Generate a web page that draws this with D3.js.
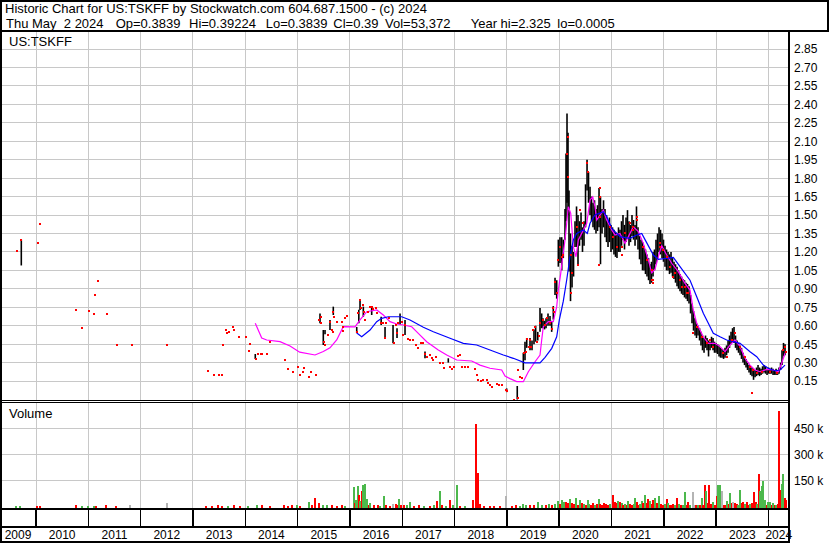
<!DOCTYPE html>
<html><head><meta charset="utf-8">
<script src="https://cdn.jsdelivr.net/npm/d3@7"></script>
<style>
body{margin:0;background:#fff}
svg{display:block}
text{font-family:"Liberation Sans",Arial,sans-serif;fill:#000}
</style>
</head><body>
<svg id="c" width="830" height="543"></svg>
<script>
// ---------------- DATA ----------------
const title = "Historic Chart for US:TSKFF by Stockwatch.com 604.687.1500 - (c) 2024";
const quoteFields = ["Thu May  2 2024","Op=0.3839","Hi=0.39224","Lo=0.3839","Cl=0.39","Vol=53,372","Year hi=2.325","lo=0.0005"];
const symbol = "US:TSKFF";
const volumeLabel = "Volume";
const yearLabels = [2009,2010,2011,2012,2013,2014,2015,2016,2017,2018,2019,2020,2021,2022,2023,2024];
const priceTicks = [0.15,0.30,0.45,0.60,0.75,0.90,1.05,1.20,1.35,1.50,1.65,1.80,1.95,2.10,2.25,2.40,2.55,2.70,2.85];
const volumeTicks = [150,300,450]; // thousands

// single-price trading days (decimal year, price) shown as red squares
const closes = [
[2009.631,1.21],[2009.722,1.30],[2010.032,1.275],[2010.076,1.43],[2010.765,0.73],[2010.879,0.58],[2011.007,0.72],
[2011.109,0.695],[2011.128,0.85],[2011.179,0.965],[2011.357,0.695],[2011.548,0.443],[2011.835,0.443],
[2012.504,0.443],[2013.287,0.232],[2013.402,0.199],[2013.498,0.199],[2013.555,0.199],[2013.574,0.443],
[2013.631,0.566],[2013.651,0.54],[2013.689,0.55],[2013.765,0.59],[2013.784,0.566],[2013.880,0.508],
[2014.014,0.508],[2014.071,0.395],[2014.090,0.45],[2014.205,0.332],[2014.243,0.37],[2014.300,0.37],
[2014.320,0.37],[2014.415,0.37],[2014.472,0.468],[2014.759,0.32],[2014.817,0.245],[2014.912,0.224],
[2015.008,0.264],[2015.046,0.197],[2015.109,0.226],[2015.122,0.26],[2015.218,0.185],[2015.256,0.226],
[2015.352,0.20],[2015.415,0.647],[2015.441,0.673],[2015.441,0.62],[2015.510,0.47],[2015.524,0.443],
[2015.575,0.524],[2015.619,0.633],[2015.652,0.565],[2015.671,0.551],[2015.682,0.714],[2015.701,0.673],
[2015.747,0.633],[2015.843,0.633],[2015.862,0.56],[2015.873,0.592],[2015.906,0.66],[2015.939,0.679],
[2016.130,0.551],[2016.160,0.70],[2016.193,0.809],[2016.206,0.742],[2016.244,0.769],[2016.269,0.714],
[2016.288,0.647],[2016.351,0.714],[2016.384,0.75],[2016.416,0.755],[2016.447,0.733],[2016.498,0.747],
[2016.523,0.70],[2016.588,0.62],[2016.638,0.62],[2016.690,0.625],[2016.671,0.498],[2016.753,0.66],
[2016.843,0.457],[2016.881,0.606],[2016.894,0.538],[2016.925,0.62],[2016.990,0.633],[2017.020,0.524],
[2017.053,0.606],[2017.116,0.49],[2017.148,0.484],[2017.211,0.484],[2017.263,0.443],[2017.295,0.416],
[2017.359,0.462],[2017.403,0.462],[2017.435,0.37],[2017.467,0.348],[2017.531,0.362],[2017.563,0.335],
[2017.594,0.321],[2017.645,0.343],[2017.722,0.30],[2017.785,0.30],[2017.798,0.254],[2017.913,0.267],
[2017.945,0.245],[2017.989,0.262],[2018.072,0.354],[2018.104,0.362],[2018.136,0.262],[2018.199,0.267],
[2018.263,0.262],[2018.391,0.245],[2018.423,0.20],[2018.454,0.159],[2018.500,0.153],[2018.549,0.159],
[2018.614,0.159],[2018.645,0.132],[2018.677,0.118],[2018.710,0.104],[2018.805,0.126],[2018.855,0.118],
[2018.901,0.118],[2018.983,0.077],[2019.008,0.069],[2019.136,0.0],[2019.207,0.01],[2019.212,0.24],
[2019.251,0.185],[2019.283,0.172],[2019.333,0.376],[2019.365,0.389],[2019.379,0.49],[2019.429,0.43],
[2019.455,0.424],[2019.442,0.484],[2019.505,0.565],[2019.538,0.587],[2019.570,0.47],[2019.620,0.516],
[2019.633,0.62],[2019.696,0.647],[2019.729,0.606],[2019.761,0.66],[2019.824,0.625],[2019.856,0.57],
[2019.887,0.742],[2019.906,0.714],[2019.920,0.958],[2019.952,0.864],[2019.983,1.134],[2020.015,1.243],
[2020.048,1.161],[2020.078,1.175],[2020.143,2.00],[2020.174,2.137],[2020.174,1.81],[2020.220,1.175],
[2020.239,1.03],[2020.226,0.864],[2020.335,1.405],[2020.365,1.094],[2020.398,1.541],[2020.461,1.433],
[2020.537,1.92],[2020.556,1.85],[2020.780,1.72],[2020.780,1.65],[2020.780,1.487],[2020.767,1.094],
[2020.971,1.405],[2021.034,1.324],[2021.099,1.243],[2021.195,1.175],[2021.195,1.243],[2021.258,1.352],
[2021.353,1.433],[2021.416,1.378],[2021.416,1.405],[2021.481,1.487],[2021.481,1.46],[2021.607,1.243],
[2021.672,1.135],[2021.768,0.97],[2021.768,1.053],[2021.799,0.945],[2021.799,0.972],[2021.927,1.243],
[2021.927,1.27],[2021.990,1.216],[2022.054,1.161],[2022.118,1.08],[2022.181,0.999],[2022.213,1.026],
[2022.309,0.972],[2022.342,0.917],[2022.404,0.917],[2022.437,0.864],[2022.467,0.864],[2022.563,0.538],
[2022.628,0.592],[2022.724,0.51],[2022.819,0.457],[2022.882,0.484],[2022.945,0.43],[2023.137,0.376],
[2023.201,0.348],[2023.297,0.484],[2023.359,0.538],[2023.456,0.43],[2023.551,0.348],[2023.647,0.267],
[2023.710,0.24],[2023.685,0.05],[2023.775,0.213],[2023.870,0.226],[2024.029,0.226],[2024.157,0.213],
[2024.283,0.403],[2024.316,0.43],[2024.334,0.39]
];

// daily range bars (decimal year, high, low)
const bars = [
[2009.719,1.30,1.09],[2014.191,0.37,0.33],
[2015.428,0.70,0.62],[2015.491,0.565,0.443],[2015.524,0.565,0.53],[2015.619,0.647,0.565],
[2015.682,0.755,0.687],[2016.130,0.59,0.54],[2016.170,0.73,0.62],[2016.193,0.81,0.728],
[2016.256,0.755,0.673],[2016.416,0.755,0.687],[2016.597,0.673,0.606],[2016.671,0.59,0.50],
[2016.824,0.606,0.457],[2016.900,0.58,0.50],[2016.958,0.70,0.606],[2017.053,0.647,0.524],
[2017.435,0.39,0.335],[2017.880,0.335,0.30],[2018.996,0.09,0.06],[2019.198,0.11,0.0],
[2019.314,0.38,0.24],[2019.346,0.47,0.32],[2019.379,0.50,0.42],[2019.442,0.50,0.40],
[2019.480,0.48,0.40],[2019.518,0.57,0.45],[2019.550,0.60,0.47],[2019.590,0.55,0.48],
[2019.633,0.744,0.55],[2019.665,0.70,0.58],[2019.690,0.66,0.58],[2019.720,0.64,0.57],
[2019.748,0.66,0.58],[2019.786,0.70,0.60],[2019.824,0.68,0.60],[2019.856,0.64,0.55],
[2019.887,0.76,0.65],[2019.920,0.99,0.85],[2019.952,0.97,0.82],[2019.983,1.30,1.08],
[2020.015,1.32,1.11],[2020.048,1.32,1.05],[2020.078,1.30,1.15],[2020.111,1.55,1.30],
[2020.130,2.00,1.45],[2020.149,2.325,1.60],[2020.168,2.17,1.50],[2020.187,1.70,1.04],
[2020.216,1.35,0.80],[2020.245,1.25,0.91],[2020.274,1.20,1.00],[2020.302,1.45,1.24],
[2020.331,1.57,1.24],[2020.359,1.50,1.10],[2020.388,1.45,1.25],[2020.417,1.52,1.30],
[2020.445,1.40,1.20],[2020.474,1.45,1.25],[2020.503,1.75,1.40],[2020.532,1.95,1.70],
[2020.560,1.85,1.60],[2020.589,1.73,1.50],[2020.617,1.65,1.45],[2020.646,1.60,1.40],
[2020.675,1.62,1.38],[2020.703,1.55,1.35],[2020.732,1.58,1.37],[2020.761,1.72,1.40],
[2020.789,1.65,1.10],[2020.818,1.55,1.35],[2020.847,1.62,1.40],[2020.875,1.55,1.32],
[2020.904,1.50,1.28],[2020.933,1.45,1.24],[2020.961,1.48,1.28],[2020.990,1.42,1.20],
[2021.019,1.40,1.22],[2021.047,1.38,1.18],[2021.076,1.36,1.16],[2021.104,1.35,1.15],
[2021.133,1.40,1.20],[2021.162,1.38,1.20],[2021.191,1.45,1.25],[2021.219,1.50,1.30],
[2021.248,1.42,1.22],[2021.277,1.48,1.28],[2021.305,1.54,1.32],[2021.334,1.45,1.25],
[2021.363,1.42,1.28],[2021.391,1.50,1.33],[2021.420,1.46,1.30],[2021.449,1.42,1.25],
[2021.477,1.57,1.30],[2021.506,1.40,1.22],[2021.535,1.33,1.14],[2021.563,1.30,1.10],
[2021.592,1.28,1.05],[2021.621,1.25,1.05],[2021.649,1.22,1.02],[2021.678,1.18,1.00],
[2021.707,1.15,0.97],[2021.735,1.10,0.94],[2021.764,1.12,0.95],[2021.793,1.20,1.00],
[2021.821,1.22,1.05],[2021.850,1.30,1.10],[2021.879,1.35,1.15],[2021.908,1.40,1.20],
[2021.936,1.38,1.18],[2021.965,1.35,1.15],[2021.993,1.30,1.12],[2022.022,1.25,1.08],
[2022.051,1.22,1.05],[2022.080,1.20,1.05],[2022.108,1.18,1.02],[2022.137,1.20,1.03],
[2022.165,1.15,1.00],[2022.194,1.12,0.98],[2022.223,1.10,0.95],[2022.252,1.08,0.92],
[2022.280,1.05,0.90],[2022.309,1.02,0.88],[2022.338,1.00,0.86],[2022.366,0.98,0.85],
[2022.395,0.97,0.83],[2022.424,0.95,0.82],[2022.452,0.94,0.80],[2022.481,0.92,0.78],
[2022.510,0.85,0.70],[2022.538,0.78,0.62],[2022.567,0.72,0.56],[2022.596,0.66,0.52],
[2022.624,0.62,0.50],[2022.653,0.60,0.52],[2022.682,0.58,0.48],[2022.710,0.55,0.44],
[2022.739,0.52,0.40],[2022.768,0.50,0.38],[2022.796,0.52,0.42],[2022.825,0.50,0.40],
[2022.854,0.48,0.35],[2022.882,0.47,0.40],[2022.911,0.51,0.42],[2022.940,0.50,0.40],
[2022.968,0.47,0.38],[2022.997,0.46,0.38],[2023.026,0.45,0.37],[2023.055,0.44,0.35],
[2023.083,0.42,0.34],[2023.112,0.41,0.34],[2023.141,0.40,0.33],[2023.169,0.42,0.34],
[2023.198,0.44,0.36],[2023.227,0.48,0.38],[2023.255,0.52,0.42],[2023.284,0.55,0.45],
[2023.313,0.58,0.46],[2023.341,0.59,0.46],[2023.370,0.52,0.42],[2023.398,0.48,0.40],
[2023.427,0.46,0.38],[2023.456,0.44,0.36],[2023.484,0.42,0.33],[2023.513,0.38,0.30],
[2023.542,0.35,0.28],[2023.571,0.33,0.26],[2023.599,0.30,0.24],[2023.628,0.28,0.22],
[2023.657,0.27,0.20],[2023.685,0.26,0.19],[2023.714,0.25,0.16],[2023.743,0.24,0.18],
[2023.771,0.26,0.19],[2023.800,0.28,0.20],[2023.829,0.26,0.19],[2023.857,0.25,0.20],
[2023.886,0.27,0.21],[2023.915,0.28,0.22],[2023.943,0.27,0.21],[2023.972,0.25,0.20],
[2024.001,0.26,0.21],[2024.029,0.25,0.21],[2024.058,0.26,0.21],[2024.087,0.25,0.20],
[2024.115,0.24,0.20],[2024.144,0.25,0.20],[2024.173,0.24,0.20],[2024.201,0.26,0.21],
[2024.230,0.30,0.24],[2024.258,0.40,0.28],[2024.287,0.46,0.35],[2024.316,0.45,0.36],
[2024.334,0.39224,0.3839]
];

// short moving average (magenta)
const maShort = [
[2014.191,0.62],[2014.314,0.50],[2014.410,0.484],[2014.664,0.47],[2014.855,0.435],[2015.040,0.385],
[2015.333,0.362],[2015.491,0.39],[2015.619,0.42],[2015.747,0.484],[2015.873,0.592],[2016.097,0.59],
[2016.193,0.647],[2016.321,0.714],[2016.512,0.728],[2016.638,0.687],[2016.766,0.633],[2016.894,0.614],
[2017.020,0.606],[2017.181,0.592],[2017.307,0.538],[2017.467,0.47],[2017.689,0.403],[2017.850,0.362],
[2018.041,0.321],[2018.328,0.313],[2018.486,0.28],[2018.677,0.254],[2018.901,0.24],[2018.964,0.191],
[2019.060,0.17],[2019.188,0.145],[2019.314,0.145],[2019.410,0.226],[2019.538,0.307],[2019.633,0.362],
[2019.665,0.484],[2019.696,0.592],[2019.792,0.633],[2019.887,0.633],[2019.952,0.755],[2019.983,0.89],
[2020.029,1.026],[2020.067,1.161],[2020.111,1.297],[2020.174,1.568],[2020.220,1.514],[2020.270,1.243],
[2020.321,1.161],[2020.365,1.297],[2020.430,1.351],[2020.526,1.433],[2020.589,1.622],[2020.640,1.649],
[2020.684,1.568],[2020.717,1.46],[2020.780,1.50],[2020.843,1.541],[2020.908,1.46],[2021.004,1.379],
[2021.067,1.338],[2021.162,1.351],[2021.258,1.27],[2021.353,1.351],[2021.416,1.405],[2021.512,1.365],
[2021.607,1.27],[2021.703,1.135],[2021.768,1.03],[2021.831,1.06],[2021.913,1.189],[2021.959,1.25],
[2022.054,1.175],[2022.150,1.108],[2022.276,1.04],[2022.404,0.945],[2022.500,0.89],[2022.563,0.728],
[2022.628,0.62],[2022.691,0.565],[2022.754,0.51],[2022.850,0.457],[2022.978,0.457],[2023.073,0.43],
[2023.169,0.389],[2023.264,0.443],[2023.359,0.484],[2023.456,0.43],[2023.551,0.335],[2023.647,0.28],
[2023.743,0.24],[2023.838,0.226],[2023.966,0.245],[2024.092,0.24],[2024.188,0.226],[2024.252,0.294],
[2024.316,0.376]
];

// long moving average (blue)
const maLong = [
[2016.130,0.54],[2016.225,0.51],[2016.384,0.565],[2016.512,0.633],[2016.607,0.66],[2016.734,0.673],
[2016.990,0.673],[2017.148,0.647],[2017.403,0.587],[2017.594,0.551],[2017.913,0.498],[2018.167,0.457],
[2018.423,0.443],[2018.677,0.403],[2018.932,0.362],[2019.123,0.335],[2019.346,0.298],[2019.633,0.298],
[2019.729,0.343],[2019.857,0.416],[2019.952,0.51],[2020.002,0.647],[2020.078,0.80],[2020.143,0.972],
[2020.206,1.161],[2020.270,1.297],[2020.335,1.351],[2020.461,1.379],[2020.537,1.351],[2020.589,1.433],
[2020.684,1.50],[2020.843,1.527],[2020.908,1.487],[2021.004,1.392],[2021.162,1.324],[2021.353,1.311],
[2021.481,1.338],[2021.577,1.351],[2021.640,1.30],[2021.800,1.175],[2021.894,1.14],[2022.181,1.156],
[2022.309,1.08],[2022.500,0.97],[2022.628,0.836],[2022.754,0.701],[2022.850,0.62],[2022.945,0.538],
[2023.073,0.51],[2023.201,0.484],[2023.327,0.47],[2023.456,0.457],[2023.647,0.389],[2023.775,0.348],
[2023.901,0.28],[2023.996,0.254],[2024.124,0.234],[2024.220,0.24],[2024.316,0.28]
];

// volume (decimal year, thousands of shares, direction: 1 up, -1 down, 0 unchanged)
const volume = [
[2009.62,4,1],[2009.69,3,1],[2010.02,5,-1],[2010.08,4,-1],[2010.76,6,-1],[2010.88,5,1],[2011.00,4,1],
[2011.11,5,1],[2011.15,3,-1],[2011.34,8,-1],[2011.53,4,-1],[2011.80,7,0],[2012.50,18,0],[2013.25,5,-1],
[2013.36,4,-1],[2013.48,6,-1],[2013.56,4,-1],[2013.67,5,1],[2013.78,6,-1],[2013.90,4,-1],[2014.05,5,1],
[2014.22,6,1],[2014.32,7,-1],[2014.47,4,-1],[2014.74,6,-1],[2014.82,5,-1],[2014.90,7,-1],
[2014.983,11,1],[2015.046,5,-1],[2015.224,25,1],[2015.275,6,-1],[2015.333,50,-1],[2015.415,21,-1],
[2015.486,6,1],[2015.562,8,1],[2015.658,6,-1],[2015.753,4,-1],[2015.843,8,-1],[2015.906,4,1],
[2016.078,114,1],[2016.097,20,-1],[2016.116,35,1],[2016.160,121,1],[2016.179,69,-1],[2016.198,30,1],
[2016.225,92,-1],[2016.256,123,1],[2016.294,131,1],[2016.332,44,1],[2016.355,10,-1],[2016.384,21,1],
[2016.460,6,-1],[2016.537,8,-1],[2016.575,5,1],[2016.651,63,1],[2016.690,6,-1],[2016.766,5,-1],
[2016.829,15,0],[2016.881,17,-1],[2016.910,8,-1],[2016.944,46,1],[2016.976,10,-1],[2017.034,8,-1],
[2017.091,6,1],[2017.148,25,1],[2017.225,5,-1],[2017.320,6,-1],[2017.416,4,1],[2017.531,5,-1],
[2017.607,6,1],[2017.670,31,-1],[2017.722,92,1],[2017.760,7,-1],[2017.836,5,1],[2017.913,40,-1],
[2017.970,6,1],[2018.041,123,1],[2018.104,5,-1],[2018.199,4,1],[2018.346,35,-1],[2018.409,479,-1],
[2018.442,194,-1],[2018.486,15,-1],[2018.562,5,-1],[2018.677,4,-1],[2018.754,5,-1],[2018.868,4,-1],
[2018.983,59,0],[2019.098,4,-1],[2019.174,6,-1],[2019.251,5,1],[2019.302,17,1],[2019.365,8,1],
[2019.442,6,-1],[2019.518,7,-1],[2019.601,25,1],[2019.671,10,1],[2019.748,8,-1],[2019.805,12,1],
[2019.862,10,-1],[2019.920,15,1],[2019.977,30,1],[2020.015,12,-1],[2020.053,40,1],[2020.092,27,1],
[2020.130,25,-1],[2020.168,18,-1],[2020.206,45,1],[2020.245,20,-1],[2020.283,15,-1],[2020.321,50,1],
[2020.359,10,-1],[2020.398,35,1],[2020.436,20,-1],[2020.474,12,1],[2020.512,8,-1],[2020.541,40,1],
[2020.570,15,1],[2020.608,10,-1],[2020.646,18,-1],[2020.684,8,1],[2020.723,12,-1],[2020.751,45,1],
[2020.780,15,-1],[2020.818,10,-1],[2020.856,20,-1],[2020.894,12,-1],[2020.933,8,-1],[2020.971,15,1],
[2021.034,69,-1],[2021.067,25,-1],[2021.095,20,-1],[2021.130,31,1],[2021.162,25,-1],[2021.191,20,1],
[2021.220,10,-1],[2021.258,15,1],[2021.287,10,-1],[2021.321,31,1],[2021.353,12,-1],[2021.391,8,-1],
[2021.420,15,1],[2021.449,50,1],[2021.481,25,-1],[2021.516,10,-1],[2021.544,12,1],[2021.577,31,1],
[2021.607,20,-1],[2021.640,69,1],[2021.669,20,-1],[2021.703,46,-1],[2021.735,31,1],[2021.764,15,-1],
[2021.793,35,-1],[2021.831,50,1],[2021.869,20,-1],[2021.913,58,1],[2021.946,12,-1],[2021.984,10,-1],
[2022.022,15,1],[2022.054,46,-1],[2022.084,20,1],[2022.118,10,-1],[2022.150,8,-1],[2022.181,15,-1],
[2022.213,10,1],[2022.257,50,-1],[2022.290,12,1],[2022.328,8,-1],[2022.366,10,1],[2022.404,85,1],
[2022.437,10,-1],[2022.467,27,-1],[2022.500,10,1],[2022.551,85,0],[2022.586,10,0],[2022.614,6,-1],
[2022.653,10,1],[2022.691,8,-1],[2022.723,50,1],[2022.754,10,-1],[2022.786,127,-1],[2022.806,88,1],
[2022.838,20,-1],[2022.869,127,-1],[2022.901,15,-1],[2022.940,25,1],[2022.968,10,-1],[2023.010,59,-1],
[2023.040,123,1],[2023.073,127,1],[2023.117,88,0],[2023.150,10,-1],[2023.178,8,-1],[2023.207,30,1],
[2023.236,12,-1],[2023.264,79,1],[2023.293,20,-1],[2023.327,25,0],[2023.359,20,-1],[2023.392,15,-1],
[2023.417,10,1],[2023.456,98,1],[2023.488,20,-1],[2023.518,25,-1],[2023.551,15,1],[2023.584,25,-1],
[2023.618,10,-1],[2023.647,15,1],[2023.685,20,-1],[2023.723,85,-1],[2023.752,25,-1],[2023.780,15,1],
[2023.813,185,-1],[2023.838,88,1],[2023.870,117,1],[2023.901,150,1],[2023.933,40,1],[2023.966,10,-1],
[2023.996,25,1],[2024.029,25,1],[2024.058,10,-1],[2024.087,20,1],[2024.115,8,-1],[2024.144,10,1],
[2024.173,15,-1],[2024.201,554,-1],[2024.220,98,-1],[2024.252,131,1],[2024.283,185,1],[2024.316,50,-1],
[2024.344,40,-1]
];

// ---------------- DRAW ----------------
const svg = d3.select("#c");
const L = 2, R = 789, PT = 31, PB = 400, VT = 402, VB = 509, TB = 527, BB = 542;

const x = d3.scaleLinear().domain([2010, 2024]).range([36, 768.5]);
const yP = d3.scaleLinear().domain([0, 3]).range([399.5, 30.6]);
const yV = d3.scaleLinear().domain([0, 600]).range([506.5, 402.7]);
const volColor = d3.scaleOrdinal().domain([1, -1, 0]).range(["#4cb84c", "#ff0000", "#b4b4b4"]);

svg.append("rect").attr("width", 830).attr("height", 543).attr("fill", "#fff");

const grid = svg.append("g").attr("stroke", "#c8c8c8").attr("stroke-width", 1).attr("shape-rendering", "crispEdges");
const yearBounds = yearLabels.slice(1);
grid.selectAll("line.vp").data(yearBounds).join("line").attr("class","vp")
  .attr("x1", d => x(d)).attr("x2", d => x(d)).attr("y1", PT).attr("y2", PB);
grid.selectAll("line.vv").data(yearBounds).join("line").attr("class","vv")
  .attr("x1", d => x(d)).attr("x2", d => x(d)).attr("y1", VT).attr("y2", VB);
grid.selectAll("line.hp").data(priceTicks).join("line").attr("class","hp")
  .attr("x1", L).attr("x2", R).attr("y1", d => yP(d)).attr("y2", d => yP(d));
grid.selectAll("line.hv").data(volumeTicks).join("line").attr("class","hv")
  .attr("x1", L).attr("x2", R).attr("y1", d => yV(d)).attr("y2", d => yV(d));

svg.append("clipPath").attr("id", "pc").append("rect").attr("x", L).attr("y", PT).attr("width", R - L).attr("height", PB - PT);
svg.append("clipPath").attr("id", "vc").append("rect").attr("x", L).attr("y", VT).attr("width", R - L).attr("height", VB - VT);

// volume bars
svg.append("g").attr("clip-path", "url(#vc)").attr("shape-rendering", "crispEdges")
  .selectAll("rect").data(volume).join("rect")
  .attr("x", d => x(d[0]) - 1).attr("width", 2)
  .attr("y", d => yV(d[1])).attr("height", d => 508 - yV(d[1]))
  .attr("fill", d => volColor(d[2]));

const pg = svg.append("g").attr("clip-path", "url(#pc)");

// hi-lo bars
pg.append("g").attr("stroke", "#000").attr("stroke-width", 1.6)
  .selectAll("line").data(bars).join("line")
  .attr("x1", d => x(d[0])).attr("x2", d => x(d[0]))
  .attr("y1", d => yP(d[1])).attr("y2", d => yP(d[2]));

// moving averages
const line = d3.line().x(d => x(d[0])).y(d => yP(d[1]));
pg.append("path").datum(maShort).attr("d", line).attr("fill", "none").attr("stroke", "#ff00ff").attr("stroke-width", 1.2);
pg.append("path").datum(maLong).attr("d", line).attr("fill", "none").attr("stroke", "#0000ff").attr("stroke-width", 1.2);

// single-price days
pg.append("g").attr("fill", "#ff0000").attr("shape-rendering", "crispEdges")
  .selectAll("rect").data(closes).join("rect")
  .attr("x", d => x(d[0]) - 1).attr("y", d => yP(d[1]) - 1).attr("width", 2).attr("height", 2);

// frame lines
const frame = svg.append("g").attr("stroke", "#000").attr("shape-rendering", "crispEdges");
frame.append("rect").attr("x", 1).attr("y", 1).attr("width", 827).attr("height", 30).attr("fill", "none").attr("stroke-width", 2);
frame.append("line").attr("x1", 1).attr("x2", 1).attr("y1", 0).attr("y2", 543).attr("stroke-width", 2);
frame.append("line").attr("x1", R).attr("x2", R).attr("y1", PT).attr("y2", 543).attr("stroke-width", 2);
frame.append("line").attr("x1", L).attr("x2", R).attr("y1", PB).attr("y2", PB).attr("stroke-width", 1);
frame.append("line").attr("x1", L).attr("x2", R).attr("y1", VT).attr("y2", VT).attr("stroke-width", 1);
frame.append("line").attr("x1", L).attr("x2", R).attr("y1", VB).attr("y2", VB).attr("stroke-width", 2);
frame.append("line").attr("x1", L).attr("x2", R).attr("y1", TB).attr("y2", TB).attr("stroke-width", 2);
frame.append("line").attr("x1", L).attr("x2", R).attr("y1", BB).attr("y2", BB).attr("stroke-width", 2);
frame.selectAll("line.tk").data(yearBounds).join("line").attr("class", "tk")
  .attr("x1", d => x(d)).attr("x2", d => x(d)).attr("y1", VB).attr("y2", TB).attr("stroke-width", 1.5);

// axes (right side)
const pAxis = svg.append("g").attr("transform", `translate(${R},0)`)
  .call(d3.axisRight(yP).tickValues(priceTicks).tickSize(0).tickPadding(5).tickFormat(d3.format(".2f")));
pAxis.select(".domain").remove();
pAxis.selectAll("text").attr("font-size", 12).attr("font-family", "Liberation Sans, Arial, sans-serif").attr("fill", "#000");

const vAxis = svg.append("g").attr("transform", `translate(${R},0)`)
  .call(d3.axisRight(yV).tickValues(volumeTicks).tickSize(0).tickPadding(5).tickFormat(d => d + " k"));
vAxis.select(".domain").remove();
vAxis.selectAll("text").attr("font-size", 12).attr("font-family", "Liberation Sans, Arial, sans-serif").attr("fill", "#000");

// year labels centred in their year span
svg.append("g").selectAll("text").data(yearLabels).join("text")
  .attr("x", d => { const a = Math.max(0, x(d)), b = Math.min(R, x(d + 1)); return Math.max(16.5, (a + b) / 2); })
  .attr("y", 539).attr("text-anchor", "middle").attr("font-size", 12).text(d => d);

// header texts
svg.append("text").attr("x", 5).attr("y", 13).attr("font-size", 13).text(title);
const fieldX = [6, 115.7, 189, 265.7, 333.3, 385, 470.7, 557.3];
svg.append("g").selectAll("text").data(quoteFields).join("text")
  .attr("x", (d, i) => fieldX[i]).attr("y", 28).attr("font-size", 13)
  .attr("xml:space", "preserve").style("white-space", "pre").text(d => d);
svg.append("text").attr("x", 9).attr("y", 46).attr("font-size", 13).text(symbol);
svg.append("text").attr("x", 9).attr("y", 418).attr("font-size", 13).text(volumeLabel);
</script>
</body></html>
